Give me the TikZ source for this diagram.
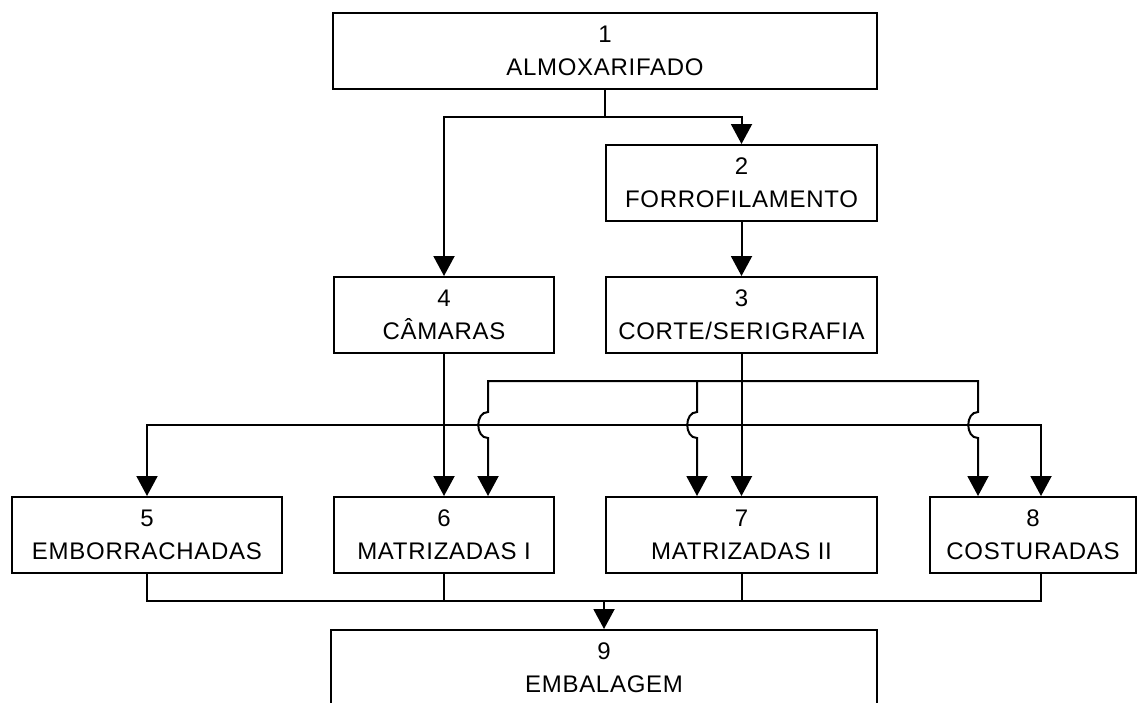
\documentclass[tikz,border=0pt]{standalone}
\usepackage{fontspec}
\setmainfont{Liberation Sans}[LetterSpace=3]
\usetikzlibrary{arrows.meta}
\begin{document}
\begin{tikzpicture}[x=1pt,y=-1pt,
  box/.style={draw, line width=2pt, inner sep=0pt, align=center,
    minimum height=76pt, font=\fontsize{24}{33}\selectfont},
  link/.style={line width=2pt},
  arr/.style={link, -{Triangle[width=21pt,length=20pt]}}]
\clip (0,0) rectangle (1139,702);
\useasboundingbox (0,0) rectangle (1139,702);

% process boxes
\node[box, minimum width=544pt] (n1) at (605,50.5)  {1\\ALMOXARIFADO};
\node[box, minimum width=271pt] (n2) at (741.5,183) {2\\FORROFILAMENTO};
\node[box, minimum width=271pt] (n3) at (741.5,315) {3\\CORTE/SERIGRAFIA};
\node[box, minimum width=220pt] (n4) at (444,315)   {4\\CÂMARAS};
\node[box, minimum width=270pt] (n5) at (147,535)   {5\\EMBORRACHADAS};
\node[box, minimum width=220pt] (n6) at (444,535)   {6\\MATRIZADAS I};
\node[box, minimum width=271pt] (n7) at (741.5,535) {7\\MATRIZADAS II};
\node[box, minimum width=206pt] (n8) at (1033,535)  {8\\COSTURADAS};
\node[box, minimum width=546pt] (n9) at (604,668)   {9\\EMBALAGEM};

% branch points
\coordinate (b1) at (605,117);
\coordinate (b3a) at (741.5,381);
\coordinate (b3b) at (741.5,425);
\coordinate (m9) at (604,601);
\coordinate (c8) at (1041,425);

% 1 -> 2 and 1 -> 4
\draw[arr] (n1.south) -- (b1) -| (n2.north);
\draw[arr] (b1) -| (n4.north);
% 2 -> 3, 4 -> 6
\draw[arr] (n2) -- (n3);
\draw[arr] (n4) -- (n6);

% 3 -> lower bus
\draw[link] (n3.south) -- (b3b);
\draw[arr] (b3b) -| (n5.north);
\draw[arr] (b3b) -- (c8) -- (c8 |- n8.north);
\draw[arr] (b3b) -- (n7.north);

% 3 -> upper bus, hopping over the lower one
\coordinate (j6a) at (488,412);  \coordinate (j6b) at (488,438);
\coordinate (j7a) at (697,412);  \coordinate (j7b) at (697,438);
\coordinate (j8a) at (978,412);  \coordinate (j8b) at (978,438);
\draw[arr] (b3a) -| (j6a) .. controls +(-13,0) and +(-13,0) .. (j6b)
  -- (j6b |- n6.north);
\draw[arr] (b3a) -| (j8a) .. controls +(-13,0) and +(-13,0) .. (j8b)
  -- (j8b |- n8.north);
\draw[arr] (j7a |- b3a) -- (j7a) .. controls +(-13,0) and +(-13,0) .. (j7b)
  -- (j7b |- n7.north);

% collector into 9
\draw[link] (n5.south) |- (m9);
\draw[link] (c8 |- n8.south) |- (m9);
\draw[link] (n6.south) -- (n6.south |- m9);
\draw[link] (n7.south) -- (n7.south |- m9);
\draw[arr] (m9) -- (n9.north);
\end{tikzpicture}
\end{document}
